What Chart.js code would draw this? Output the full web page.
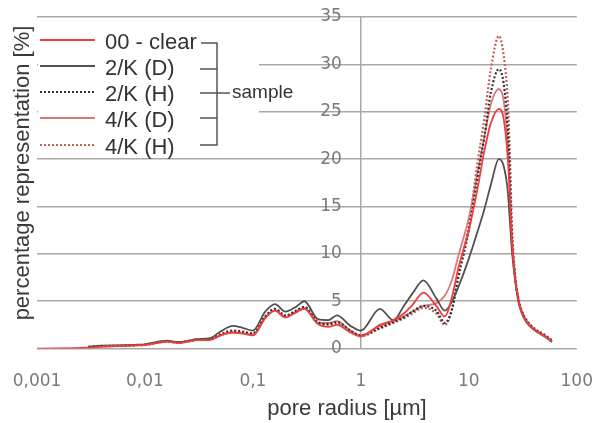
<!DOCTYPE html>
<html lang="en">
<head>
    <meta charset="UTF-8" />
    <title>Pore radius distribution</title>
    <script src="https://cdn.jsdelivr.net/npm/chart.js"></script>
    <style>
        html, body { margin: 0; padding: 0; background: #fff; }
        #wrap { width: 593px; height: 423px; }
    </style>
</head>
<body>
    <div id="wrap"><canvas id="grafica" width="593" height="423"></canvas></div>

    <script>
        // pore radius [um] (shared x values)
        const radius = [0.001, 0.003, 0.004, 0.006, 0.008, 0.01, 0.013, 0.016, 0.02, 0.025,
            0.03, 0.04, 0.05, 0.065, 0.08, 0.1, 0.13, 0.16, 0.2, 0.25,
            0.3, 0.4, 0.5, 0.6, 0.8, 1, 1.5, 2, 2.5, 3,
            3.8, 5, 6, 7, 8, 10, 12, 14, 16, 19,
            21, 23, 24, 25, 27, 29, 31, 34, 40, 50, 59];

        // percentage representation [%]
        const clear00 = [0, 0.1, 0.2, 0.3, 0.35, 0.4, 0.6, 0.75, 0.6, 0.75,
            0.9, 0.9, 1.4, 1.7, 1.6, 1.4, 3.2, 4.0, 3.3, 3.8,
            4.2, 2.6, 2.3, 2.5, 1.7, 1.3, 2.5, 3.0, 3.7, 4.6,
            5.9, 4.5, 3.4, 5.5, 8.5, 12.5, 16.8, 21, 23.8, 25.3,
            24.3, 20, 16, 11.5, 7.2, 5.0, 3.8, 2.9, 2.0, 1.3, 0.8];
        const k2D = [null, 0.2, 0.3, 0.35, 0.4, 0.45, 0.7, 0.85, 0.7, 0.8,
            1.0, 1.1, 1.8, 2.4, 2.2, 1.9, 3.9, 4.7, 3.9, 4.4,
            5.0, 3.1, 3.0, 3.5, 2.4, 1.9, 4.2, 3.0, 4.5, 5.8,
            7.2, 5.3, 4.0, 5.0, 6.5, 9.5, 12.3, 14.8, 17.3, 20,
            19.3, 16.5, 13.5, 10.5, 7.0, 4.8, 3.7, 2.8, 2.0, 1.3, 0.7];
        const k2H = [null, 0.2, 0.3, 0.3, 0.35, 0.4, 0.65, 0.8, 0.65, 0.8,
            0.95, 1.0, 1.5, 1.9, 1.8, 1.6, 3.4, 4.2, 3.5, 4.0,
            4.4, 2.8, 2.6, 2.8, 1.9, 1.4, 2.2, 2.8, 3.3, 3.9,
            4.5, 4.0, 2.7, 4.2, 7.5, 12.5, 18, 22.5, 27, 29.5,
            28, 23, 18, 12, 7.3, 5.0, 3.9, 3.0, 2.1, 1.4, 0.8];
        const k4D = [null, 0.1, 0.2, 0.3, 0.35, 0.4, 0.6, 0.75, 0.6, 0.75,
            0.9, 0.95, 1.4, 1.7, 1.6, 1.5, 3.3, 4.0, 3.3, 3.9,
            4.3, 2.7, 2.7, 2.9, 1.9, 1.4, 2.4, 2.9, 3.4, 3.9,
            4.5, 4.8, 5.6, 7.3, 9.8, 13.8, 18.5, 22.5, 25.8, 27.4,
            26.2, 21.5, 17, 12, 7.3, 5.0, 3.9, 3.0, 2.1, 1.4, 0.8];
        const k4H = [null, 0.15, 0.25, 0.3, 0.35, 0.4, 0.6, 0.75, 0.6, 0.75,
            0.9, 0.95, 1.4, 1.8, 1.7, 1.5, 3.3, 4.1, 3.4, 3.9,
            4.3, 2.7, 2.5, 2.6, 1.8, 1.3, 2.1, 2.7, 3.2, 3.7,
            4.3, 3.7, 2.5, 4.2, 8.0, 13, 19.5, 24.5, 29.5, 33,
            31, 26, 20.5, 13.5, 7.5, 5.2, 4.0, 3.1, 2.2, 1.5, 0.9];

        const seriesNames = ["00 - clear", "2/K (D)", "2/K (H)", "4/K (D)", "4/K (H)"];
        const xTickValues = [0.001, 0.01, 0.1, 1, 10, 100];
        const xTickLabels = ["0,001", "0,01", "0,1", "1", "10", "100"];
        const yTickValues = [0, 5, 10, 15, 20, 25, 30, 35];

        const estilos = [
            { color: "#f03c3c", dash: [], width: 1.8 },
            { color: "#505050", dash: [], width: 1.8 },
            { color: "#333333", dash: [2, 2], width: 2.2 },
            { color: "#dc7878", dash: [], width: 1.8 },
            { color: "#c06060", dash: [2, 2], width: 2.2 }
        ];
        const valores = [clear00, k2D, k2H, k4D, k4H];

        function puntos(serie) {
            return radius.map((r, i) => ({ x: r, y: serie[i] }));
        }

        const datasets = valores.map((serie, i) => ({
            label: seriesNames[i],
            data: puntos(serie),
            borderColor: estilos[i].color,
            borderDash: estilos[i].dash,
            borderWidth: estilos[i].width,
            pointRadius: 0,
            fill: false,
            cubicInterpolationMode: "monotone"
        }));

        // titles and custom bracketed legend
        const extras = {
            id: "extras",
            afterDraw(chart) {
                const ctx = chart.ctx;
                ctx.save();
                ctx.fillStyle = "#3a3a3a";
                ctx.font = "22px 'Liberation Sans', Arial, sans-serif";
                ctx.textAlign = "center";
                ctx.textBaseline = "middle";
                ctx.fillText("pore radius [\u00b5m]", 347, 409);

                ctx.save();
                ctx.translate(23, 173);
                ctx.rotate(-Math.PI / 2);
                ctx.fillText("percentage representation [%]", 0, 0);
                ctx.restore();

                // legend box
                ctx.fillStyle = "#ffffff";
                ctx.fillRect(chart.chartArea.left + 1, 25, 221, 127);
                const filas = [40, 66, 92, 118, 145];
                filas.forEach((y, i) => {
                    ctx.beginPath();
                    ctx.strokeStyle = estilos[i].color;
                    ctx.lineWidth = 2;
                    ctx.setLineDash(estilos[i].dash);
                    ctx.moveTo(40, y);
                    ctx.lineTo(95, y);
                    ctx.stroke();
                    ctx.setLineDash([]);
                    ctx.fillStyle = "#333";
                    ctx.textAlign = "left";
                    ctx.font = "22px 'Liberation Sans', Arial, sans-serif";
                    ctx.fillText(seriesNames[i], 105, y + 3);
                });
                // bracket
                ctx.strokeStyle = "#555";
                ctx.lineWidth = 1.5;
                ctx.beginPath();
                ctx.moveTo(201, 43); ctx.lineTo(217, 43); ctx.lineTo(217, 145); ctx.lineTo(200, 145);
                [69, 93, 118].forEach(y => { ctx.moveTo(200, y); ctx.lineTo(217, y); });
                ctx.moveTo(217, 93); ctx.lineTo(230, 93);
                ctx.stroke();
                ctx.font = "19px 'Liberation Sans', Arial, sans-serif";
                ctx.fillText("sample", 232, 93);
                ctx.restore();
            }
        };

        const ctx = document.getElementById("grafica").getContext("2d");
        new Chart(ctx, {
            type: "line",
            data: { datasets },
            plugins: [extras],
            options: {
                responsive: false,
                animation: false,
                layout: { padding: { left: 37, right: 16, top: 17, bottom: 31 } },
                plugins: { legend: { display: false }, tooltip: { enabled: false } },
                scales: {
                    x: {
                        type: "logarithmic",
                        min: 0.001,
                        max: 100,
                        afterBuildTicks: s => { s.ticks = xTickValues.map(v => ({ value: v })); },
                        ticks: {
                            autoSkip: false,
                            maxRotation: 0,
                            padding: 0,
                            color: "#7a7a7a",
                            font: { family: "'DejaVu Sans'", size: 17 },
                            callback: (v, i) => xTickLabels[i]
                        },
                        grid: {
                            drawTicks: true,
                            tickLength: 23,
                            tickColor: "rgba(0,0,0,0)",
                            lineWidth: 1.5,
                            color: c => (c.tick && c.tick.value === 1) ? "#a8a8a8" : "rgba(0,0,0,0)"
                        },
                        border: { display: false }
                    },
                    y: {
                        type: "linear",
                        min: 0,
                        max: 35,
                        position: { x: 0.667 },
                        afterBuildTicks: s => { s.ticks = yTickValues.map(v => ({ value: v })); },
                        ticks: {
                            color: "#7a7a7a",
                            font: { family: "'DejaVu Sans'", size: 17 }
                        },
                        grid: { drawTicks: false, lineWidth: 1.5, color: "#a8a8a8" },
                        border: { display: false }
                    }
                }
            }
        });
    </script>
</body>
</html>
